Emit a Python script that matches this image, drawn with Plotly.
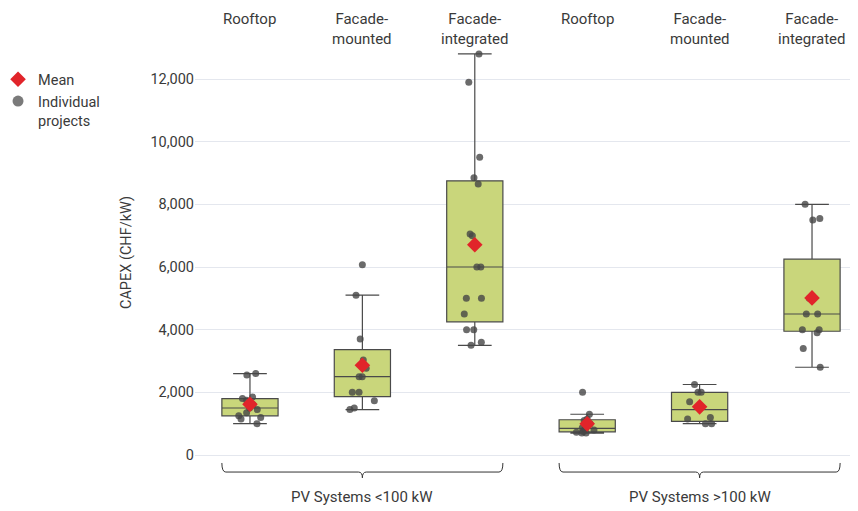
import numpy as np
import plotly.graph_objects as go

# ---- data ----
categories = ["Rooftop", "Facade-<br>mounted", "Facade-<br>integrated",
              "Rooftop", "Facade-<br>mounted", "Facade-<br>integrated"]
group_labels = ["PV Systems <100 kW", "PV Systems >100 kW"]
group_members = [(0, 2), (3, 5)]

rooftop_small = [1000, 1150, 1200, 1250, 1350, 1450, 1500, 1600, 1750, 1800, 1850, 2550, 2600]
facade_mounted_small = [1450, 1500, 1730, 2000, 2000, 2500, 2500, 2770, 3030, 3700, 5100, 6070]
facade_integrated_small = [3500, 3600, 4000, 4000, 4500, 5000, 5000, 6000, 6000, 7000, 7050,
                           8650, 8850, 9500, 11900, 12800]
rooftop_large = [700, 700, 730, 750, 800, 830, 870, 1000, 1100, 1150, 1300, 2000]
facade_mounted_large = [1000, 1000, 1150, 1200, 1700, 2000, 2000, 2250]
facade_integrated_large = [2800, 3400, 3900, 4000, 4000, 4500, 4500, 5000, 7500, 7550, 8000]

series = [rooftop_small, facade_mounted_small, facade_integrated_small,
          rooftop_large, facade_mounted_large, facade_integrated_large]

y_ticks = [0, 2000, 4000, 6000, 8000, 10000, 12000]

# ---- style ----
FONT = "Roboto"
TXT = "#3a3a3a"
BOX_FILL = "#c9d67b"
BOX_LINE = "#4a4a4a"
POINT = "rgba(70,70,70,0.8)"
MEAN = "#e1242a"

xs, ys = [], []
for i, vals in enumerate(series):
    xs += [i] * len(vals)
    ys += vals

fig = go.Figure()
fig.add_trace(go.Box(
    x=xs, y=ys, boxpoints="all", jitter=0.5, pointpos=0,
    quartilemethod="inclusive", width=0.5, whiskerwidth=0.6,
    fillcolor=BOX_FILL, line=dict(color=BOX_LINE, width=1.2),
    marker=dict(color=POINT, size=7), showlegend=False, hoverinfo="skip",
))

means = [float(np.mean(v)) for v in series]
fig.add_trace(go.Scatter(
    x=list(range(len(series))), y=means, mode="markers",
    marker=dict(symbol="diamond", color=MEAN, size=12),
    name="Mean", showlegend=True,
))
fig.add_trace(go.Scatter(
    x=[None], y=[None], mode="markers",
    marker=dict(symbol="circle", color="#7a7a7a", size=11),
    name="Individual<br>projects", showlegend=True,
))

# category labels on top
for i, c in enumerate(categories):
    fig.add_annotation(x=i, xref="x", y=1.089, yref="paper", yanchor="top",
                       text=c, showarrow=False, align="center",
                       font=dict(family=FONT, size=15, color=TXT))

# braces + group labels
y0, y1, y2 = -0.0072, -0.029, -0.043
d = 0.035
for (a, b), lab in zip(group_members, group_labels):
    xl, xr, xc = a - 0.25, b + 0.25, (a + b) / 2
    path = (f"M {xl},{y0} Q {xl},{y1} {xl+d},{y1} L {xc-d},{y1} "
            f"Q {xc},{y1} {xc},{y2} Q {xc},{y1} {xc+d},{y1} "
            f"L {xr-d},{y1} Q {xr},{y1} {xr},{y0}")
    fig.add_shape(type="path", path=path, xref="x", yref="paper",
                  line=dict(color="#333333", width=1))
    fig.add_annotation(x=xc, xref="x", y=-0.0892, yref="paper", yanchor="middle",
                       text=lab, showarrow=False,
                       font=dict(family=FONT, size=15, color=TXT))

per_px = 12000 / 376
fig.update_layout(
    width=850, height=503,
    margin=dict(l=187, r=0, t=37, b=51),
    paper_bgcolor="white", plot_bgcolor="white",
    font=dict(family=FONT, size=14, color=TXT),
    legend=dict(x=-0.282, xanchor="left", y=0.956, yanchor="top",
                valign="top", indentation=-10,
                font=dict(family=FONT, size=14.5, color=TXT),
                bgcolor="rgba(0,0,0,0)", tracegroupgap=0),
    xaxis=dict(range=[-0.489, 5.409], showticklabels=False, showgrid=False,
               zeroline=False, showline=False, ticks=""),
    yaxis=dict(range=[-5 * per_px, 410 * per_px], tickvals=y_ticks,
               tickformat=",", gridcolor="#e4e7ee", gridwidth=1,
               zeroline=False, showline=False,
               title=dict(text="CAPEX (CHF/kW)", font=dict(family=FONT, size=14.5, color=TXT)),
               tickfont=dict(family=FONT, size=14.5, color=TXT)),
)

fig.write_html("out.html")
